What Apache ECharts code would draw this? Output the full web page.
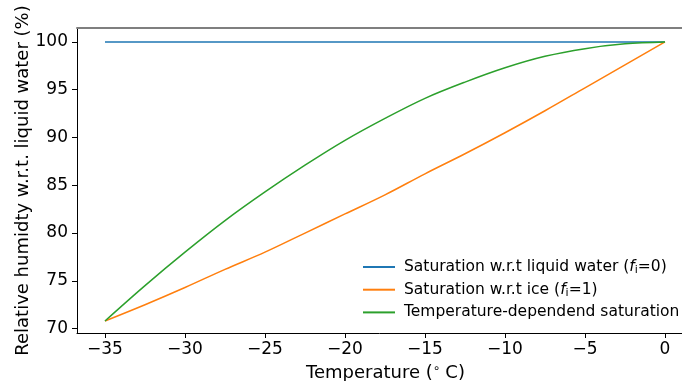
<!DOCTYPE html>
<html>
<head>
<meta charset="utf-8">
<script src="https://cdn.jsdelivr.net/npm/echarts@6/dist/echarts.min.js"></script>
<style>html,body{margin:0;padding:0;background:#fff}#c{width:682px;height:381px}</style>
</head>
<body>
<div id="c"></div>
<script>
// Temperature (°C)
const temperature = [-35, -32.5, -30, -27.5, -25, -22.5, -20, -17.5, -15, -12.5, -10, -7.5, -5, -2.5, 0];
// Relative humidity w.r.t. liquid water (%)
const satLiquid = [100, 100, 100, 100, 100, 100, 100, 100, 100, 100, 100, 100, 100, 100, 100];
const satIce = [70.8, 72.5, 74.3, 76.2, 78.0, 80.0, 82.0, 84.0, 86.2, 88.3, 90.5, 92.8, 95.2, 97.6, 100];
const satTempDep = [70.8, 74.5, 78.0, 81.3, 84.3, 87.1, 89.7, 92.0, 94.1, 95.8, 97.3, 98.5, 99.3, 99.8, 100];
const xTicks = [-35, -30, -25, -20, -15, -10, -5, 0];
const yTicks = [70, 75, 80, 85, 90, 95, 100];
const seriesNames = ['Saturation w.r.t liquid water', 'Saturation w.r.t ice', 'Temperature-dependend saturation'];
const colors = ['#1f77b4', '#ff7f0e', '#2ca02c'];

const FONT = 'DejaVu Sans';
const TICK = 17, TITLE = 18, LEG = 15.5;
const minus = v => String(v).replace('-', '\u2212');
const pair = arr => temperature.map((t, i) => [t, arr[i]]);

const chart = echarts.init(document.getElementById('c'), null, {renderer: 'canvas'});
const mk = (name, data, color, z) => ({
  name, type: 'line', data: pair(data), showSymbol: false, symbol: 'none',
  smooth: 0.35,
  lineStyle: {color, width: 1.5}, itemStyle: {color}, z, animation: false,
  xAxisIndex: 0, yAxisIndex: 0
});
chart.setOption({
  animation: false,
  textStyle: {fontFamily: FONT},
  grid: {left: 77, top: 28, bottom: 48, right: 0, containLabel: false, outerBoundsMode: 'none'},
  xAxis: [{
    type: 'value', min: -36.75, max: 1.0625, position: 'bottom',
    name: 'Temperature ({s|\u2218}C)', nameLocation: 'middle', nameGap: 30, nameMoveOverlap: false,
    nameTextStyle: {fontSize: TITLE, color: '#000', fontFamily: FONT, padding: [0, 0, 0, 12],
      rich: {s: {fontSize: 12, verticalAlign: 'top', padding: [0, 5, 8, 0], color: '#000', fontFamily: FONT}}},
    axisLine: {show: true, onZero: false, lineStyle: {color: '#000', width: 1}},
    axisTick: {show: true, inside: false, length: 5, lineStyle: {color: '#000'}, customValues: xTicks},
    axisLabel: {fontSize: TICK, color: '#000', fontFamily: FONT, margin: 8, formatter: minus, customValues: xTicks},
    splitLine: {show: false}
  }, {
    type: 'value', min: -36.75, max: 1.0625, position: 'top',
    axisLine: {show: true, onZero: false, lineStyle: {color: '#7f7f7f', width: 2}},
    axisTick: {show: false}, axisLabel: {show: false}, splitLine: {show: false}
  }],
  yAxis: {
    type: 'value', min: 69.54, max: 101.46,
    name: 'Relative humidty w.r.t. liquid water (%)', nameLocation: 'middle', nameGap: 45, nameMoveOverlap: false,
    nameTextStyle: {fontSize: TITLE, color: '#000', fontFamily: FONT},
    axisLine: {show: true, onZero: false, lineStyle: {color: '#000', width: 1}},
    axisTick: {show: true, inside: false, length: 5, lineStyle: {color: '#000'}, customValues: yTicks},
    axisLabel: {fontSize: TICK, color: '#000', fontFamily: FONT, margin: 9, customValues: yTicks},
    splitLine: {show: false}
  },
  legend: {
    orient: 'vertical', left: 358, top: 253, itemWidth: 32, itemHeight: 2, itemGap: 4.7,
    icon: 'rect',
    data: seriesNames,
    formatter: function (n) {
      if (n === seriesNames[0]) return n + ' ({i|f}{sub|i}=0)';
      if (n === seriesNames[1]) return n + ' ({i|f}{sub|i}=1)';
      return n;
    },
    textStyle: {fontSize: LEG, lineHeight: 18, color: '#000', fontFamily: FONT, padding: [0, 0, 0, 4],
      rich: {i: {fontStyle: 'italic', fontSize: LEG, lineHeight: 18, color: '#000', fontFamily: FONT},
             sub: {fontSize: 11, lineHeight: 18, verticalAlign: 'bottom', padding: [6, 0, 0, 0], color: '#000', fontFamily: FONT}}}
  },
  series: [
    mk(seriesNames[0], satLiquid, colors[0], 3),
    mk(seriesNames[1], satIce, colors[1], 4),
    mk(seriesNames[2], satTempDep, colors[2], 5)
  ]
});
</script>
</body>
</html>
